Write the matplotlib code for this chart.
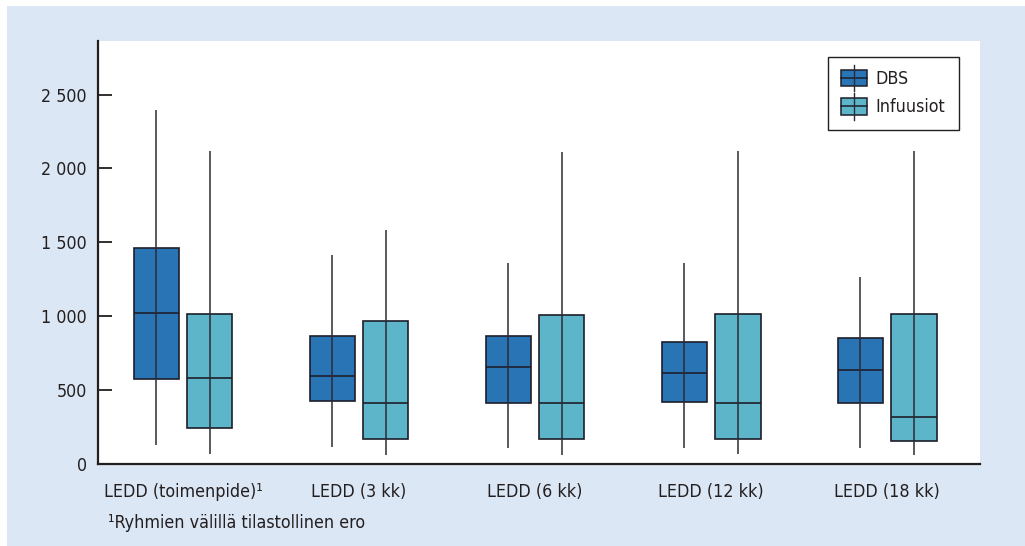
import matplotlib
matplotlib.use("Agg")
import matplotlib.pyplot as plt
from matplotlib import font_manager as fm
from matplotlib.patches import Rectangle
from matplotlib.lines import Line2D
from matplotlib.legend_handler import HandlerBase
import numpy as np

# the original uses a condensed face; use one if the system has it
narrow = [f for f in fm.fontManager.ttflist
          if f.stretch in ("condensed", "semi-condensed")
          or "Narrow" in f.name or "Condensed" in f.name]
if narrow:
    plt.rcParams['font.family'] = [narrow[0].name, 'DejaVu Sans']
    plt.rcParams['font.stretch'] = narrow[0].stretch
    FS = 12.8
else:
    plt.rcParams['font.family'] = ['Liberation Sans', 'DejaVu Sans']
    FS = 12

# data
groups = ["LEDD (toimenpide)\u00b9", "LEDD (3 kk)", "LEDD (6 kk)", "LEDD (12 kk)", "LEDD (18 kk)"]
dbs_min = [130, 115, 105, 110, 105]
dbs_q1 = [577, 428, 411, 417, 411]
dbs_med = [1020, 595, 656, 613, 634]
dbs_q3 = [1463, 866, 866, 823, 855]
dbs_max = [2395, 1414, 1360, 1358, 1267]
inf_min = [65, 60, 60, 65, 60]
inf_q1 = [246, 171, 167, 169, 156]
inf_med = [580, 413, 413, 413, 318]
inf_q3 = [1012, 970, 1010, 1012, 1012]
inf_max = [2120, 1583, 2111, 2116, 2116]
yticks = [0, 500, 1000, 1500, 2000, 2500]
ytick_labels = ["0", "500", "1 000", "1 500", "2 000", "2 500"]
footnote = "\u00b9Ryhmien välillä tilastollinen ero"

BG = "#dbe7f4"
DBS_C = "#2874b5"
INF_C = "#5db5ca"
EDGE = "#1e1e2a"
WHISK = "#2b2b33"
TXT = "#231f20"

fig = plt.figure(figsize=(10.25, 5.46), dpi=100, facecolor="white")
fig.patches.append(Rectangle((7 / 1025, 0), 1 - 7 / 1025, 1 - 6 / 546,
                             transform=fig.transFigure, facecolor=BG,
                             edgecolor="none", zorder=-10))
ax = fig.add_axes([98 / 1025, 1 - 464 / 546, 882 / 1025, 423 / 546])
ax.set_facecolor("white")

x = np.arange(len(groups))
off = 0.153
w = 0.256


def draw_boxes(xs, lo, q1, med, q3, hi, color):
    q1 = np.array(q1)
    q3 = np.array(q3)
    ax.bar(xs, q3 - q1, width=w, bottom=q1, color=color, edgecolor=EDGE,
           linewidth=1.2, zorder=2)
    ax.hlines(med, xs - w / 2, xs + w / 2, color=EDGE, linewidth=1.2, zorder=3)
    ax.vlines(xs, lo, hi, color=WHISK, linewidth=1.1, zorder=4)


draw_boxes(x - off, dbs_min, dbs_q1, dbs_med, dbs_q3, dbs_max, DBS_C)
draw_boxes(x + off, inf_min, inf_q1, inf_med, inf_q3, inf_max, INF_C)

ax.set_xlim(-0.483, 4.528)
ax.set_ylim(0, 2862)

for s in ["top", "right"]:
    ax.spines[s].set_visible(False)
for s in ["left", "bottom"]:
    ax.spines[s].set_color(TXT)
    ax.spines[s].set_linewidth(1.6)

ax.set_yticks(yticks)
ax.set_yticklabels(ytick_labels)
ax.tick_params(axis="y", direction="in", length=10, width=1.3, color=TXT,
               labelsize=FS, labelcolor=TXT, pad=8)
ax.set_xticks(x)
ax.set_xticklabels(groups)
ax.tick_params(axis="x", length=0, labelsize=FS, labelcolor=TXT, pad=14)


class BoxHandler(HandlerBase):
    def create_artists(self, legend, orig_handle, xdescent, ydescent,
                       width, height, fontsize, trans):
        x0, y0 = -xdescent, -ydescent
        r = Rectangle((x0, y0), width, height, facecolor=orig_handle.get_facecolor(),
                      edgecolor=EDGE, linewidth=1.1, transform=trans)
        h = Line2D([x0, x0 + width], [y0 + height / 2] * 2, color=EDGE,
                   linewidth=1.1, transform=trans)
        v = Line2D([x0 + width / 2] * 2, [y0 - 0.3 * height, y0 + 1.3 * height],
                   color=WHISK, linewidth=1.0, transform=trans)
        return [r, h, v]


h1 = Rectangle((0, 0), 1, 1, facecolor=DBS_C)
h2 = Rectangle((0, 0), 1, 1, facecolor=INF_C)
leg = ax.legend([h1, h2], ["DBS", "Infuusiot"], loc="upper right",
                bbox_to_anchor=(0.976, 0.963), borderaxespad=0,
                handler_map={Rectangle: BoxHandler()},
                fontsize=FS, frameon=True, fancybox=False, framealpha=1,
                edgecolor=TXT, handlelength=1.45, handleheight=1.05,
                handletextpad=0.5, borderpad=0.75, labelspacing=0.55)
leg.get_frame().set_linewidth(1.0)
for t in leg.get_texts():
    t.set_color(TXT)

fig.text(108 / 1025, 1 - 523 / 546, footnote, fontsize=FS, color=TXT,
         va="center", ha="left")

fig.savefig("out.png", dpi=100, facecolor=fig.get_facecolor())
